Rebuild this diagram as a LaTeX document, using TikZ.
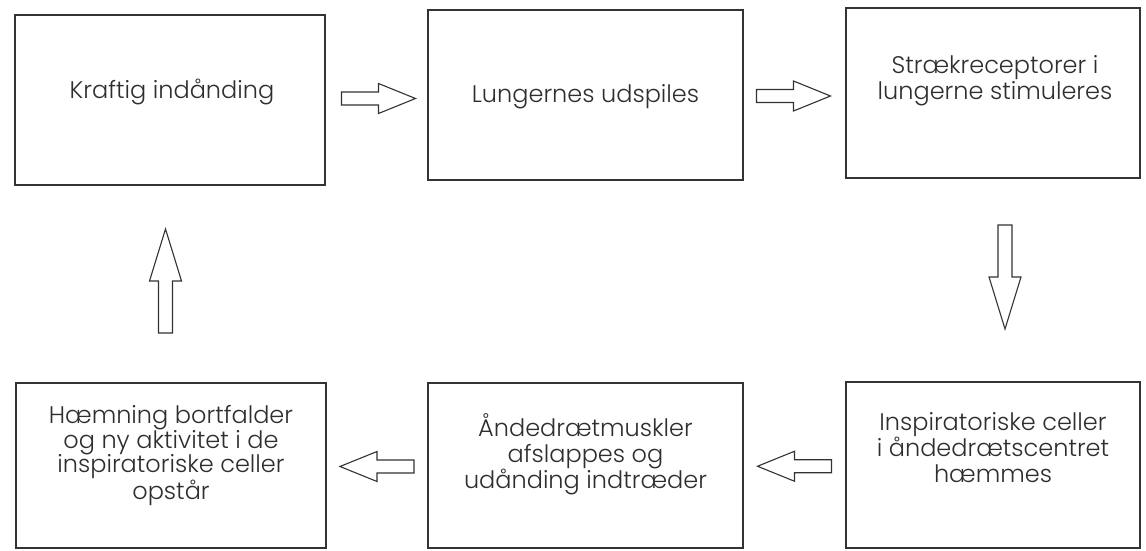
\documentclass[tikz,border=0pt]{standalone}
\usepackage{fontspec}
\setmainfont{Poppins}[UprightFont=* Light]
\usetikzlibrary{calc}
\definecolor{ink}{HTML}{333333}
\definecolor{txt}{HTML}{2E2E2E}
\tikzset{
  box/.style={draw=ink, line width=1.3pt, minimum width=#1, inner sep=0pt},
  boxtext/.style={text=txt, align=center, font=\fontsize{24}{26}\selectfont, inner sep=0pt},
  arrowline/.style={draw=ink, line width=1.1pt, fill=white, line join=miter},
  harrow/.pic={
    \path[arrowline] (-37,-6.5) -- (0,-6.5) -- (0,-15) -- (37,0) -- (0,15) -- (0,6.5) -- (-37,6.5) -- cycle;
  },
  varrow/.pic={
    \path[arrowline] (-52,-7) -- (0,-7) -- (0,-16) -- (52,0) -- (0,16) -- (0,7) -- (-52,7) -- cycle;
  }
}
\begin{document}
\begin{tikzpicture}[x=1pt,y=1pt]
\useasboundingbox (0,0) rectangle (1146,550);
\fill[white] (0,0) rectangle (1146,550);
% boxes
\node[box=310pt, minimum height=170pt] (b1) at (170,450) {};
\node[box=315pt, minimum height=170pt] (b2) at (585.5,455) {};
\node[box=294pt, minimum height=170pt] (b3) at (993,457) {};
\node[box=310pt, minimum height=165pt] (b4) at (171,84.5) {};
\node[box=315pt, minimum height=165pt] (b5) at (585.5,84.5) {};
\node[box=294pt, minimum height=166pt] (b6) at (993,85) {};
% texts
\node[boxtext] (t1) at ($(b1.center)+(2,8)$) {Kraftig indånding};
\node[boxtext] (t2) at ($(b2.center)+(0,-2)$) {Lungernes udspiles};
\node[boxtext] (t3) at ($(b3.center)+(2,12)$) {Strækreceptorer i\\lungerne stimuleres};
\node[boxtext, font=\fontsize{24}{24.5}\selectfont] (t4) at ($(b4.center)+(0,10)$) {Hæmning bortfalder\\og ny aktivitet i de\\inspiratoriske celler\\opstår};
\node[boxtext] (t5) at ($(b5.center)+(0,11)$) {Åndedrætmuskler\\afslappes og\\udånding indtræder};
\node[boxtext] (t6) at ($(b6.center)+(0,17)$) {Inspiratoriske celler\\i åndedrætscentret\\hæmmes};
% block arrows
\pic at ($(b1.east)!0.5!(b2.west)+(2,-1)$) {harrow};
\pic at ($(b2.east)!0.5!(b3.west)+(-1,-2)$) {harrow};
\pic[rotate=-90] at ($(b3.south)!0.5!(b6.north)+(12,3)$) {varrow};
\pic[rotate=180] at ($(b6.west)!0.5!(b5.east)+(0,-1)$) {harrow};
\pic[rotate=180] at ($(b5.west)!0.5!(b4.east)+(0,-1)$) {harrow};
\pic[rotate=90] at ($(b4.north)!0.5!(b1.south)+(-5,3)$) {varrow};
\end{tikzpicture}
\end{document}
